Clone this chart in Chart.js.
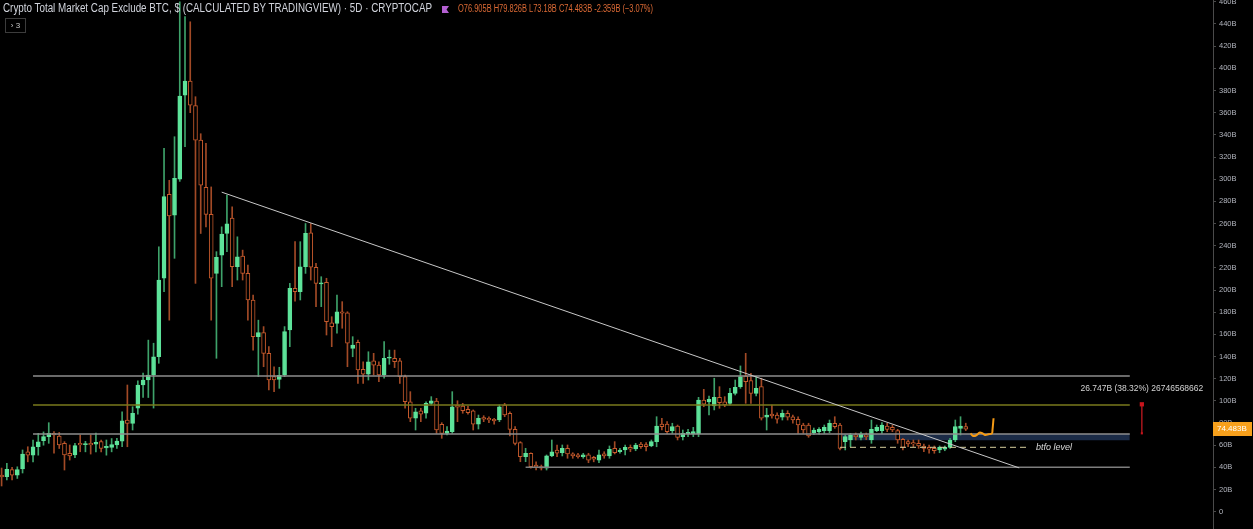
<!DOCTYPE html>
<html><head><meta charset="utf-8">
<script src="https://cdn.jsdelivr.net/npm/chart.js@4.4.1/dist/chart.umd.min.js"></script>
<style>
html,body{margin:0;padding:0;background:#000;overflow:hidden;}
#wrap{position:relative;width:1253px;height:529px;background:#000;}
canvas{display:block;}
.hdr{position:absolute;white-space:nowrap;transform-origin:0 50%;font-family:"Liberation Sans",Arial,sans-serif;line-height:14px;}
#badge{position:absolute;left:5px;top:18px;width:19px;height:13px;border:1px solid #3c3c3c;color:#c8c8c8;font:8px "Liberation Sans",Arial,sans-serif;line-height:13px;text-align:center;box-sizing:content-box;}
#flag{position:absolute;left:442px;top:6px;width:7px;height:7px;background:#b35fd1;clip-path:polygon(0 0,100% 0,65% 50%,100% 100%,0 100%);}
</style></head><body>
<div id="wrap">
<canvas id="c" width="1253" height="529"></canvas>
<div id="title" class="hdr" data-w="429" style="left:3px;top:1px;font-size:12px;color:#d1d4dc;">Crypto Total Market Cap Exclude BTC, $ (CALCULATED BY TRADINGVIEW) · 5D · CRYPTOCAP</div>
<div id="flag"></div>
<div id="ohlc" class="hdr" data-w="195" style="left:458px;top:2px;font-size:10px;color:#dc6a35;">O76.905B H79.826B L73.18B C74.483B -2.359B (−3.07%)</div>
<div id="badge">› 3</div>
</div>
<script>
// ---- Candle data (5D candles, values in billions USD) ----
const opens = [33.1,31.6,38.0,33.0,38.5,54.0,51.0,58.6,64.0,67.7,70.7,68.3,61.7,52.7,51.2,61.7,60.5,61.7,61.0,63.2,
57.5,58.0,60.2,63.7,82.7,79.7,93.5,114.3,118.8,123.3,139.8,210.6,286.3,267.6,300.0,375.8,388.4,366.3,335.3,292.6,
268.3,215.0,231.4,251.0,265.0,221.0,230.7,215.0,191.0,157.8,161.5,142.9,121.8,119.4,123.3,163.9,201.5,198.5,221.0,251.7,
220.5,205.5,207.0,170.5,169.9,180.4,179.5,147.4,152.8,128.5,124.0,136.2,132.3,123.3,138.4,138.4,136.0,121.8,99.2,84.3,
90.9,88.8,97.8,99.9,78.9,70.7,72.2,96.3,95.4,92.4,90.9,78.9,84.8,84.3,83.4,82.7,96.3,88.8,74.3,62.3,
49.6,52.7,42.1,40.6,39.2,50.3,55.7,53.2,57.2,52.1,51.2,49.6,51.2,49.1,46.6,52.1,50.3,57.2,54.1,55.7,
58.1,56.6,61.1,60.5,59.3,63.2,79.1,79.1,73.1,77.3,67.7,70.1,70.1,70.1,100.8,99.0,95.4,103.2,99.2,97.8,
106.8,112.8,122.4,118.2,106.8,112.8,85.2,88.1,87.2,85.2,88.8,85.7,83.4,78.2,78.2,71.3,72.2,73.1,73.1,79.8,
78.2,63.2,64.7,69.2,67.1,69.2,64.7,73.1,73.1,77.3,76.1,73.1,65.3,63.2,62.3,61.7,59.3,58.1,57.2,55.7,
56.3,58.1,64.7,75.2,76.905];
const highs = [39.4,43.7,40.0,40.5,55.7,58.6,64.7,70.7,72.0,80.3,72.2,71.5,63.2,60.2,61.7,69.2,63.5,69.2,71.0,64.7,
64.7,66.0,66.2,90.2,114.3,94.7,118.0,125.0,154.8,152.0,239.0,327.8,299.0,338.3,460.0,446.6,442.0,374.4,341.0,332.4,
293.0,234.6,257.0,285.7,275.0,248.0,236.0,222.5,195.5,172.8,167.0,148.9,130.8,130.3,167.0,206.0,243.6,243.6,260.0,260.0,
224.0,212.0,210.6,175.9,195.5,189.5,180.4,157.9,154.8,135.3,144.3,142.9,135.3,153.4,145.8,145.8,138.4,123.3,108.3,93.3,
93.3,99.2,103.8,102.3,80.3,76.7,108.3,100.1,97.8,95.4,91.8,87.2,86.6,85.7,84.3,96.3,97.8,90.2,76.7,63.2,
57.2,53.2,45.1,42.1,51.2,64.7,60.2,60.2,60.2,53.2,52.7,52.7,52.7,50.0,55.7,54.1,59.3,63.2,57.2,60.2,
60.2,61.7,62.6,62.3,64.7,85.7,84.3,81.2,79.8,78.2,73.7,74.3,76.1,103.2,110.4,104.4,120.4,112.8,103.8,111.3,
118.8,131.5,142.9,124.9,121.8,120.4,93.3,96.3,89.3,91.8,91.1,87.2,85.7,79.8,79.8,75.5,76.0,78.2,82.7,85.7,
79.8,69.2,70.7,71.0,71.9,71.0,82.7,78.2,80.3,79.8,78.2,74.3,66.2,64.7,64.7,64.7,61.1,60.2,59.3,59.3,
59.3,66.2,82.7,85.7,79.826];
const lows = [23.2,28.6,28.6,30.0,34.9,45.0,45.0,51.0,60.0,61.7,52.7,57.0,37.6,46.6,48.7,54.1,54.0,52.0,54.0,54.0,
51.0,54.0,57.2,58.6,58.6,73.7,88.0,103.0,103.0,93.5,133.9,198.5,172.8,228.6,298.0,329.3,360.0,206.0,251.0,257.0,
172.8,138.4,203.0,234.6,203.0,209.0,209.0,172.8,145.8,121.8,130.8,109.8,108.2,111.3,121.8,148.9,190.0,191.0,215.0,209.0,
185.0,185.0,159.4,148.9,161.0,165.5,130.8,139.8,115.8,115.8,118.8,123.3,117.3,120.4,133.0,130.0,115.8,93.3,81.2,73.7,
81.2,84.3,96.3,70.7,66.2,69.2,70.7,81.2,88.8,88.1,73.7,74.6,81.2,80.3,78.9,81.2,85.7,68.3,60.2,45.1,
45.1,39.2,37.6,37.6,37.6,49.6,49.6,50.3,48.2,48.2,48.2,48.2,44.2,45.0,44.2,48.2,48.2,52.1,52.7,51.2,
54.1,55.0,57.2,54.8,58.6,58.6,73.7,70.7,70.7,64.7,64.7,67.7,67.7,67.7,94.7,87.2,91.8,93.3,94.7,96.3,
105.3,111.3,97.8,97.8,104.4,82.7,73.7,84.3,79.8,82.7,82.7,79.8,70.7,70.7,67.1,69.7,70.0,70.7,71.3,75.2,
55.7,55.7,58.6,64.7,64.7,65.0,61.7,72.2,70.7,72.2,72.2,61.7,55.7,58.6,58.6,57.2,54.1,52.7,52.7,53.2,
55.0,57.2,63.2,69.2,73.18];
const closes = [31.3,38.3,33.0,38.0,52.0,51.0,58.6,63.0,67.7,70.7,69.2,60.2,51.2,50.3,59.6,60.2,61.5,60.2,62.5,57.2,
59.0,60.5,63.7,82.0,79.7,88.7,114.3,118.8,123.3,139.8,208.9,284.2,266.8,300.8,375.0,388.4,366.7,335.3,294.6,268.3,
210.6,229.5,250.5,259.6,221.0,230.0,215.0,191.0,157.8,161.5,142.9,118.8,118.8,123.0,162.4,201.5,198.5,221.0,251.2,220.5,
206.0,206.5,171.4,166.9,180.4,179.0,152.0,150.4,127.8,124.0,135.3,132.3,123.3,138.4,139.5,135.3,121.8,99.2,84.3,90.2,
88.1,97.8,100.1,73.7,70.7,72.8,94.7,94.2,91.1,89.3,78.9,84.3,83.4,82.7,82.0,94.7,87.2,74.3,61.7,49.6,
52.7,40.6,40.1,39.2,50.3,54.1,52.7,57.2,52.1,50.3,49.6,51.2,46.6,47.3,51.2,50.3,56.3,53.2,55.7,58.1,
56.3,60.2,58.6,58.6,63.2,77.3,76.7,72.2,76.7,67.1,70.7,71.6,72.2,100.8,97.0,101.4,103.2,98.3,96.3,106.8,
112.2,121.8,117.3,106.8,111.3,84.3,87.2,86.3,83.4,88.8,85.2,82.7,78.2,73.7,68.3,73.7,74.3,76.1,79.8,76.7,
57.2,67.7,69.2,67.7,70.1,67.7,74.3,76.1,78.2,74.3,73.7,64.7,58.1,61.1,61.1,59.3,57.2,56.3,55.0,58.1,
58.1,64.7,76.7,77.3,74.483];

// ---- Axis ticks ----
const yTickValues = [0,20,40,60,80,100,120,140,160,180,200,220,240,260,280,300,320,340,360,380,400,420,440,460];
const yTickLabels = ['0','20B','40B','60B','80B','100B','120B','140B','160B','180B','200B','220B','240B','260B','280B','300B','320B','340B','360B','380B','400B','420B','440B','460B'];

// ---- Drawn levels / annotations (x = candle index, y = value in B) ----
const levelTop = [{x:6,y:122.4},{x:215.3,y:122.4}];
const levelOlive = [{x:6,y:96.3},{x:215.3,y:96.3}];
const levelMid = [{x:6,y:70.1},{x:215.3,y:70.1}];
const levelLow = [{x:100,y:40.1},{x:215.3,y:40.1}];
const zoneTop = [{x:160,y:70.1},{x:215.3,y:70.1}];
const zoneBottom = 64.5;
const btfoLevel = [{x:160,y:58.1},{x:195.7,y:58.1}];
const trendLine = [{x:42.0,y:288.3},{x:194.2,y:39.5}];
const squiggle = [{x:184.9,y:70.7},{x:185.4,y:68.3},{x:186.1,y:69.2},{x:186.6,y:71.3},{x:187.2,y:70.7},{x:187.7,y:69.2},{x:188.3,y:69.8},{x:189.0,y:70.7},{x:189.1,y:73.7},{x:189.3,y:84.3}];
const measure = [{x:217.6,y:96.9},{x:217.6,y:70.7}];
const measureText = '26.747B (38.32%) 26746568662';
const btfoText = 'btfo level';
const btfoTextPos = {x:197.4,y:58.1};
const lastPriceText = '74.483B';

const UP = '#5ee39a', UPWICK = '#3ea26a', DN = '#c65a2c', DNWICK = '#a24a26';
const n = opens.length;
const idx = opens.map((_, i) => i);
const isUp = idx.map(i => closes[i] >= opens[i]);

const yMax = 461.65, yMin = -15.61;
const xMin = -0.305, xMax = 231.18;

const annotations = {
  id: 'annotations',
  afterDraw(chart) {
    const {ctx, scales: {x, y}, chartArea} = chart;
    ctx.save();
    const mx = x.getPixelForValue(measure[0].x);
    const my = y.getPixelForValue(measure[0].y);
    ctx.font = '8.5px "Liberation Sans", Arial, sans-serif';
    ctx.fillStyle = '#d4d4d4';
    ctx.textAlign = 'center';
    ctx.textBaseline = 'middle';
    ctx.fillText(measureText, mx, my - 16);
    ctx.font = 'italic 9px "Liberation Sans", Arial, sans-serif';
    ctx.textAlign = 'left';
    ctx.fillStyle = '#dadada';
    ctx.fillText(btfoText, x.getPixelForValue(btfoTextPos.x), y.getPixelForValue(btfoTextPos.y));
    const py = y.getPixelForValue(closes[n - 1]);
    ctx.fillStyle = '#f7a01c';
    ctx.fillRect(chartArea.right, Math.round(py) - 7, 1252 - chartArea.right, 14);
    ctx.fillStyle = '#ffffff';
    ctx.font = '8px "Liberation Sans", Arial, sans-serif';
    ctx.textAlign = 'left';
    ctx.fillText(lastPriceText, chartArea.right + 4, Math.round(py));
    ctx.restore();
  }
};

const lineDs = (data, color, width, order, extra) => Object.assign({
  type: 'line', data, borderColor: color, borderWidth: width, pointRadius: 0, fill: false, order, tension: 0, clip: false
}, extra || {});

new Chart(document.getElementById('c'), {
  data: {
    datasets: [
      lineDs(zoneTop, 'rgba(0,0,0,0)', 0, 9, {fill: {value: zoneBottom}, backgroundColor: '#1b2b47'}),
      {
        type: 'bar', order: 4, grouped: false, barThickness: 1,
        data: idx.map(i => ({x: i, y: [lows[i], highs[i]]})),
        backgroundColor: idx.map(i => isUp[i] ? UPWICK : DNWICK),
        borderWidth: 0
      },
      {
        type: 'bar', order: 3, grouped: false, barThickness: 4,
        data: idx.map(i => ({x: i, y: [opens[i], closes[i]]})),
        backgroundColor: idx.map(i => isUp[i] ? UP : '#000000'),
        borderColor: idx.map(i => isUp[i] ? UP : DN),
        borderWidth: 1, borderSkipped: false
      },
      lineDs(levelTop, '#8e8e8e', 1.6, 2),
      lineDs(levelOlive, '#7a7a1c', 1.6, 2),
      lineDs(levelMid, '#8e8e8e', 1.6, 2),
      lineDs(levelLow, '#7e7e7e', 1.6, 2),
      lineDs(btfoLevel, '#d8cf9e', 1, 2, {borderDash: [6, 4]}),
      lineDs(trendLine, '#c8c8c8', 1, 1),
      lineDs(squiggle, '#f59b16', 2, 1, {tension: 0.35}),
      lineDs(measure, '#a8161c', 1.5, 1, {pointRadius: [3, 1.5], pointStyle: 'rect', pointBackgroundColor: '#c8141c', pointBorderWidth: 0})
    ]
  },
  options: {
    responsive: false, maintainAspectRatio: false, animation: false,
    layout: {padding: 0, autoPadding: false},
    plugins: {legend: {display: false}, tooltip: {enabled: false}},
    scales: {
      x: {type: 'linear', min: xMin, max: xMax, display: false, offset: false},
      y: {
        type: 'linear', position: 'right', min: yMin, max: yMax,
        afterBuildTicks: s => { s.ticks = yTickValues.map(v => ({value: v})); },
        afterFit: s => { s.width = 40; s.paddingTop = 0; s.paddingBottom = 0; },
        grid: {drawOnChartArea: false, drawTicks: true, tickLength: 3, color: '#4a4a4a'},
        border: {display: true, color: '#4a4a4a', width: 1},
        ticks: {
          color: '#b2b5be', padding: 3, autoSkip: false,
          font: {size: 7.5, family: '"Liberation Sans", Arial, sans-serif'},
          callback: v => yTickLabels[yTickValues.indexOf(v)]
        }
      }
    }
  },
  plugins: [annotations]
});

document.querySelectorAll('.hdr').forEach(el => {
  const w = el.getBoundingClientRect().width;
  const target = +el.dataset.w;
  if (w > 0) el.style.transform = 'scaleX(' + (target / w) + ')';
});
</script>
</body></html>
